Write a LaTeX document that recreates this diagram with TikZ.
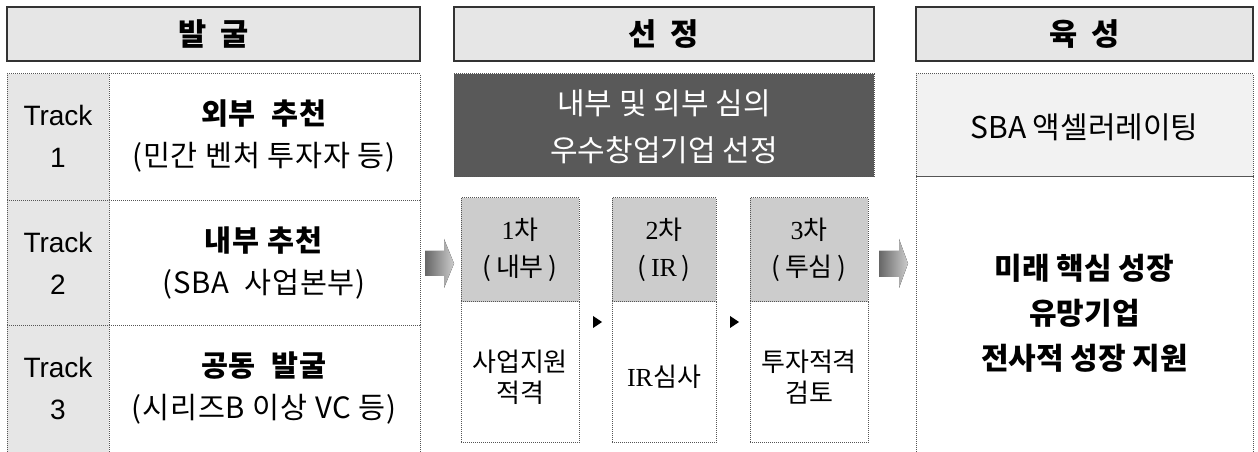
\documentclass[tikz,border=0pt]{standalone}
\usepackage{fontspec}
\setmainfont{Noto Sans CJK KR}
\newfontfamily\arialf{Liberation Sans}
\newfontfamily\serf{Liberation Serif}
\usetikzlibrary{fit}
\definecolor{hdrfill}{HTML}{E6E6E6}
\definecolor{hdrline}{HTML}{333333}
\definecolor{trackfill}{HTML}{E6E6E6}
\definecolor{darkfill}{HTML}{595959}
\definecolor{subfill}{HTML}{CCCCCC}
\definecolor{lightfill}{HTML}{F2F2F2}
\definecolor{dotline}{HTML}{555555}
\tikzset{
  x=0.75pt, y=-0.75pt,
  box/.style={inner sep=0pt, outer sep=0pt, align=center},
  hdr/.style={box, draw=hdrline, line width=1.1pt, fill=hdrfill},
  hdrtext/.style={font=\fontsize{23}{26}\selectfont\bfseries},
  dotbox/.style={box, draw=dotline, line width=0.75pt, dash pattern=on 0.75pt off 0.75pt},
  trackcell/.style={dotbox, fill=trackfill},
  maincell/.style={dotbox, fill=white},
  darkcell/.style={dotbox, fill=darkfill},
  subhead/.style={dotbox, fill=subfill},
  subbody/.style={dotbox, fill=white},
  rightcell/.style={dotbox},
  tracktext/.style={align=center, font=\arialf\fontsize{21}{31.5}\selectfont},
  maintext/.style={align=center, font=\fontsize{22}{31.5}\selectfont\addfontfeature{LetterSpace=3}},
  darktext/.style={align=center, text=white, font=\fontsize{22.5}{35}\selectfont},
  subheadtext/.style={align=center, font=\fontsize{19.5}{28}\selectfont},
  subbodytext/.style={align=center, font=\fontsize{19.5}{23.5}\selectfont},
  righttext/.style={align=center, font=\fontsize{22.5}{33.75}\selectfont},
  bigarrow/.style={left color=black!60, right color=black!20, draw=none},
  tri/.style={fill=black, draw=none},
}
\begin{document}
\begin{tikzpicture}
\useasboundingbox (0,0) rectangle (1258,452);
% headers
\node[hdr, fit={(7,7) (420,61)}] (h1) {};
\node[hdrtext] at (h1.center) (h1t) {발\hspace{0.45em}굴};
\node[hdr, fit={(454,7) (874,61)}] (h2) {};
\node[hdrtext] at (h2.center) (h2t) {선\hspace{0.45em}정};
\node[hdr, fit={(916,7) (1253,61)}] (h3) {};
\node[hdrtext] at (h3.center) (h3t) {육\hspace{0.45em}성};
% left table
\node[trackcell, fit={(7,74) (109,201)}] (t1) {};
\node[trackcell, fit={(7,201) (109,326)}] (t2) {};
\node[trackcell, fit={(7,326) (109,453)}] (t3) {};
\node[maincell, fit={(109,74) (420,201)}] (m1) {};
\node[maincell, fit={(109,201) (420,326)}] (m2) {};
\node[maincell, fit={(109,326) (420,453)}] (m3) {};
\node[tracktext] at (58,136) (t1t) {Track\\1};
\node[tracktext] at (58,263) (t2t) {Track\\2};
\node[tracktext] at (58,388) (t3t) {Track\\3};
\node[maintext] at (264,136) (m1t) {\textbf{외부~~추천}\\(민간 벤처 투자자 등)};
\node[maintext] at (264,263) (m2t) {\textbf{내부 추천}\\(SBA~~사업본부)};
\node[maintext] at (264,388) (m3t) {\textbf{공동~~발굴}\\(시리즈B 이상 VC 등)};
% middle
\node[darkcell, fit={(454,74) (874,177)}] (dk) {};
\node[darktext] at (664,126.5) (dkt) {내부 및 외부 심의\\우수창업기업 선정};
\node[subhead, fit={(461,198) (579,302)}] (s1h) {};
\node[subhead, fit={(612,198) (716,302)}] (s2h) {};
\node[subhead, fit={(750,198) (868,302)}] (s3h) {};
\node[subbody, fit={(461,302) (579,443)}] (s1b) {};
\node[subbody, fit={(612,302) (716,443)}] (s2b) {};
\node[subbody, fit={(750,302) (868,443)}] (s3b) {};
\node[subheadtext] at (s1h.center) (s1ht) {{\serf 1}차\\({\serf\,}내부{\serf\,})};
\node[subheadtext] at (s2h.center) (s2ht) {{\serf 2}차\\({\serf\,IR\,})};
\node[subheadtext] at (s3h.center) (s3ht) {{\serf 3}차\\({\serf\,}투심{\serf\,})};
\node[subbodytext] at (520,377) (s1bt) {사업지원\\적격};
\node[subbodytext] at (664,377) (s2bt) {{\serf IR}심사};
\node[subbodytext] at (809,377) (s3bt) {투자적격\\검토};
\fill[tri] (593,316) -- (602,322) -- (593,328) -- cycle;
\fill[tri] (730,316) -- (739,322) -- (730,328) -- cycle;
% right
\node[rightcell, fill=lightfill, fit={(916,74) (1253,177)}] (r1) {};
\node[rightcell, fill=white, fit={(916,177) (1253,453)}] (r2) {};
\node[righttext] at (1084.5,127) (r1t) {SBA 액셀러레이팅};
\node[righttext, font=\fontsize{22.5}{33.75}\selectfont\bfseries] at (1084.5,313) (r2t) {미래 핵심 성장\\유망기업\\전사적 성장 지원};
% big arrows
\fill[bigarrow] (425,251) -- (444,251) -- (444,239) -- (454,263.5) -- (444,288) -- (444,276) -- (425,276) -- cycle;
\fill[bigarrow] (879,251) -- (899,251) -- (899,239) -- (908,263.5) -- (899,288) -- (899,277) -- (879,277) -- cycle;
\end{tikzpicture}
\end{document}
